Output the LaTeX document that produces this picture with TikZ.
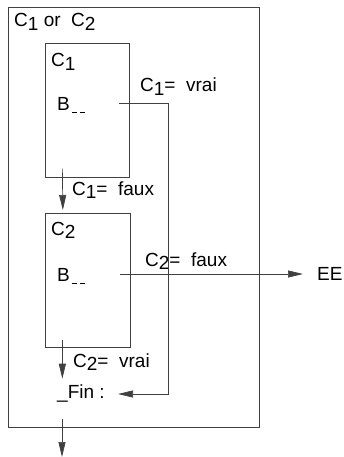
\documentclass[tikz,border=0pt]{standalone}
\usepackage{fontspec}
\setmainfont{Liberation Sans}
\usetikzlibrary{positioning, arrows.meta}
\colorlet{linegray}{black!75}
\newcommand{\cs}[1]{C\raisebox{-3.5pt}{#1}}
\newcommand{\bdash}{B\kern2pt\raisebox{-2pt}{\rule{5pt}{0.8pt}\hspace{3pt}\rule{5pt}{0.8pt}}}

\begin{document}
\begin{tikzpicture}[x=1pt, y=-1pt, font=\fontsize{19}{22}\selectfont,
  box/.style={draw=linegray, line width=0.7pt, anchor=north west, inner sep=0pt},
  lbl/.style={anchor=base west, inner sep=0pt},
  arr/.style={-{Triangle[length=15pt, width=7pt]}, draw=linegray, line width=0.7pt}]
\useasboundingbox (0,0) rectangle (344,457);
\node[box, minimum width=251pt, minimum height=420pt] (outer) at (8,7) {};
\node[box, minimum width=84pt, minimum height=134pt] (c1) at (45,43) {};
\node[box, minimum width=85pt, minimum height=134pt] (c2) at (45,213) {};
\node[lbl] (title) at (14,27) {\cs{1} or \ \cs{2}};
\node[lbl] (c1name) at (51,67) {\cs{1}};
\node[lbl] (c2name) at (51,235) {\cs{2}};
\node[lbl] (b1) at (57,110.5) {\bdash};
\node[lbl] (b2) at (57,281.5) {\bdash};
\node[lbl] (fin) at (57,398) {\_Fin :};
\node[lbl] (ee) at (317,280) {EE};
\node[lbl] (vrai1) at (140,92) {\cs{1}= \ vrai};
\node[lbl] (faux1) at (72,195) {\cs{1}= \ faux};
\node[lbl] (faux2) at (145,266) {\cs{2}= \ faux};
\node[lbl] (vrai2) at (73,367) {\cs{2}= \ vrai};
\coordinate (turn) at (168,394);
\coordinate (exit) at (62,457);
\draw[arr] ([xshift=-25pt, yshift=9pt]c1.south) -- ([xshift=-25pt, yshift=3pt]c2.north);
\draw[arr] ([xshift=-25.5pt, yshift=8pt]c2.south) -- ([xshift=-25.5pt, yshift=-31pt]c2.south);
\draw[arr] (b1.base -| 119,0) ++(0,-7.5) -| (turn) -- (turn -| 118,0);
\draw[arr] (b2.base -| 120,0) ++(0,-7.5) -- ++(183,0);
\draw[arr] ([yshift=9pt]outer.south -| exit) -- (exit);
\end{tikzpicture}
\end{document}
